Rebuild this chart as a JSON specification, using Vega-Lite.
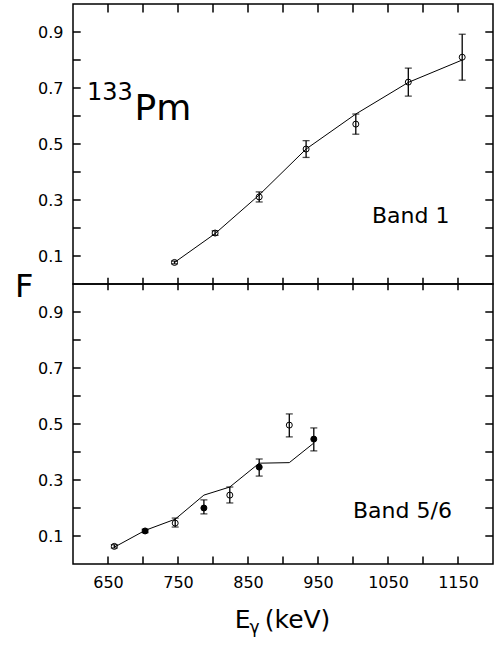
{
  "$schema": "https://vega.github.io/schema/vega-lite/v6.json",
  "autosize": {"type": "none"},
  "padding": {"left": 73, "top": 4, "right": 3, "bottom": 641},
  "bounds": "flush",
  "spacing": 0,
  "background": "white",
  "datasets": {
    "band1": [
      {"E": 745, "F": 0.077, "lo": 0.072, "hi": 0.082, "Fth": 0.077, "filled": false},
      {"E": 803, "F": 0.182, "lo": 0.174, "hi": 0.190, "Fth": 0.180, "filled": false},
      {"E": 866, "F": 0.311, "lo": 0.293, "hi": 0.329, "Fth": 0.318, "filled": false},
      {"E": 933, "F": 0.482, "lo": 0.452, "hi": 0.512, "Fth": 0.482, "filled": false},
      {"E": 1004, "F": 0.571, "lo": 0.535, "hi": 0.607, "Fth": 0.607, "filled": false},
      {"E": 1079, "F": 0.721, "lo": 0.671, "hi": 0.771, "Fth": 0.720, "filled": false},
      {"E": 1156, "F": 0.810, "lo": 0.728, "hi": 0.892, "Fth": 0.800, "filled": false}
    ],
    "band56": [
      {"E": 659, "F": 0.063, "lo": 0.057, "hi": 0.069, "Fth": 0.060, "filled": false},
      {"E": 703, "F": 0.118, "lo": 0.112, "hi": 0.124, "Fth": 0.120, "filled": true},
      {"E": 746, "F": 0.146, "lo": 0.132, "hi": 0.164, "Fth": 0.160, "filled": false},
      {"E": 787, "F": 0.200, "lo": 0.179, "hi": 0.229, "Fth": 0.246, "filled": true},
      {"E": 824, "F": 0.246, "lo": 0.218, "hi": 0.275, "Fth": 0.275, "filled": false},
      {"E": 866, "F": 0.346, "lo": 0.314, "hi": 0.375, "Fth": 0.360, "filled": true},
      {"E": 909, "F": 0.496, "lo": 0.454, "hi": 0.536, "Fth": 0.362, "filled": false},
      {"E": 944, "F": 0.446, "lo": 0.404, "hi": 0.486, "Fth": 0.432, "filled": true}
    ],
    "yticks": [{"v": 0.1}, {"v": 0.2}, {"v": 0.3}, {"v": 0.4}, {"v": 0.5}, {"v": 0.6}, {"v": 0.7}, {"v": 0.8}, {"v": 0.9}],
    "xticks": [{"v": 650}, {"v": 700}, {"v": 750}, {"v": 800}, {"v": 850}, {"v": 900}, {"v": 950}, {"v": 1000}, {"v": 1050}, {"v": 1100}, {"v": 1150}]
  },
  "config": {
    "view": {"stroke": "black", "strokeWidth": 1.5},
    "axis": {
      "domain": false, "grid": false, "ticks": false,
      "labelFont": "DejaVu Sans", "labelFontSize": 16, "labelColor": "black", "labelPadding": 10, "title": null
    },
    "text": {"font": "DejaVu Sans", "color": "black"}
  },
  "vconcat": [
    {
      "width": 420, "height": 280,
      "layer": [
        {
          "data": {"name": "band1"},
          "mark": {"type": "line", "color": "black", "strokeWidth": 1},
          "encoding": {
            "x": {"field": "E", "type": "quantitative", "scale": {"domain": [600, 1200], "nice": false}, "axis": null},
            "y": {"field": "Fth", "type": "quantitative", "scale": {"domain": [0, 1], "nice": false},
                  "axis": {"orient": "left", "values": [0.1, 0.3, 0.5, 0.7, 0.9], "format": ".1f"}}
          }
        },
        {
          "data": {"name": "band1"},
          "mark": {"type": "errorbar", "ticks": true, "size": 7, "thickness": 1.3, "color": "black"},
          "encoding": {
            "x": {"field": "E", "type": "quantitative", "scale": {"domain": [600, 1200], "nice": false}, "axis": null},
            "y": {"field": "lo", "type": "quantitative", "scale": {"domain": [0, 1], "nice": false}, "axis": null},
            "y2": {"field": "hi"}
          }
        },
        {
          "data": {"name": "band1"},
          "mark": {"type": "point", "shape": "circle", "size": 36, "strokeWidth": 1, "opacity": 1, "filled": true},
          "encoding": {
            "x": {"field": "E", "type": "quantitative", "scale": {"domain": [600, 1200], "nice": false}, "axis": null},
            "y": {"field": "F", "type": "quantitative", "scale": {"domain": [0, 1], "nice": false}, "axis": null},
            "fill": {"condition": {"test": "datum.filled", "value": "black"}, "value": "transparent"},
            "stroke": {"value": "black"}
          }
        },
        {
          "data": {"name": "yticks"},
          "mark": {"type": "rule", "color": "black", "strokeWidth": 1.5, "opacity": 1},
          "encoding": {
            "y": {"field": "v", "type": "quantitative", "scale": {"domain": [0, 1], "nice": false}, "axis": null},
            "x": {"datum": 600, "type": "quantitative", "scale": {"domain": [600, 1200], "nice": false}, "axis": null},
            "x2": {"datum": 611}
          }
        },
        {
          "data": {"name": "yticks"},
          "mark": {"type": "rule", "color": "black", "strokeWidth": 1.5, "opacity": 1},
          "encoding": {
            "y": {"field": "v", "type": "quantitative", "scale": {"domain": [0, 1], "nice": false}, "axis": null},
            "x": {"datum": 1189, "type": "quantitative", "scale": {"domain": [600, 1200], "nice": false}, "axis": null},
            "x2": {"datum": 1200}
          }
        },
        {
          "data": {"name": "xticks"},
          "mark": {"type": "rule", "color": "black", "strokeWidth": 1.5, "opacity": 1},
          "encoding": {
            "x": {"field": "v", "type": "quantitative", "scale": {"domain": [600, 1200], "nice": false}, "axis": null},
            "y": {"datum": 0, "type": "quantitative", "scale": {"domain": [0, 1], "nice": false}, "axis": null},
            "y2": {"datum": 0.022}
          }
        },
        {
          "data": {"name": "xticks"},
          "mark": {"type": "rule", "color": "black", "strokeWidth": 1.5, "opacity": 1},
          "encoding": {
            "x": {"field": "v", "type": "quantitative", "scale": {"domain": [600, 1200], "nice": false}, "axis": null},
            "y": {"datum": 0.97, "type": "quantitative", "scale": {"domain": [0, 1], "nice": false}, "axis": null},
            "y2": {"datum": 1}
          }
        },
        {
          "data": {"values": [{}]},
          "mark": {"type": "text", "text": "133", "fontSize": 24, "align": "left", "baseline": "alphabetic"},
          "encoding": {
            "x": {"datum": 620, "type": "quantitative", "scale": {"domain": [600, 1200], "nice": false}, "axis": null},
            "y": {"datum": 0.657, "type": "quantitative", "scale": {"domain": [0, 1], "nice": false}, "axis": null}
          }
        },
        {
          "data": {"values": [{}]},
          "mark": {"type": "text", "text": "Pm", "fontSize": 36, "align": "left", "baseline": "alphabetic"},
          "encoding": {
            "x": {"datum": 688, "type": "quantitative", "scale": {"domain": [600, 1200], "nice": false}, "axis": null},
            "y": {"datum": 0.586, "type": "quantitative", "scale": {"domain": [0, 1], "nice": false}, "axis": null}
          }
        },
        {
          "data": {"values": [{}]},
          "mark": {"type": "text", "text": "Band 1", "fontSize": 22, "align": "left", "baseline": "alphabetic"},
          "encoding": {
            "x": {"datum": 1027, "type": "quantitative", "scale": {"domain": [600, 1200], "nice": false}, "axis": null},
            "y": {"datum": 0.218, "type": "quantitative", "scale": {"domain": [0, 1], "nice": false}, "axis": null}
          }
        },
        {
          "data": {"values": [{}]},
          "mark": {"type": "text", "text": "F", "fontSize": 32, "align": "left", "baseline": "alphabetic"},
          "encoding": {
            "x": {"datum": 517, "type": "quantitative", "scale": {"domain": [600, 1200], "nice": false}, "axis": null},
            "y": {"datum": -0.046, "type": "quantitative", "scale": {"domain": [0, 1], "nice": false}, "axis": null}
          }
        }
      ],
      "resolve": {"axis": {"x": "independent", "y": "independent"}}
    },
    {
      "width": 420, "height": 280,
      "layer": [
        {
          "data": {"name": "band56"},
          "mark": {"type": "line", "color": "black", "strokeWidth": 1},
          "encoding": {
            "x": {"field": "E", "type": "quantitative", "scale": {"domain": [600, 1200], "nice": false},
                  "axis": {"orient": "bottom", "values": [650, 750, 850, 950, 1050, 1150], "format": "d"}},
            "y": {"field": "Fth", "type": "quantitative", "scale": {"domain": [0, 1], "nice": false},
                  "axis": {"orient": "left", "values": [0.1, 0.3, 0.5, 0.7, 0.9], "format": ".1f"}}
          }
        },
        {
          "data": {"name": "band56"},
          "mark": {"type": "errorbar", "ticks": true, "size": 7, "thickness": 1.3, "color": "black"},
          "encoding": {
            "x": {"field": "E", "type": "quantitative", "scale": {"domain": [600, 1200], "nice": false}, "axis": null},
            "y": {"field": "lo", "type": "quantitative", "scale": {"domain": [0, 1], "nice": false}, "axis": null},
            "y2": {"field": "hi"}
          }
        },
        {
          "data": {"name": "band56"},
          "mark": {"type": "point", "shape": "circle", "size": 36, "strokeWidth": 1, "opacity": 1, "filled": true},
          "encoding": {
            "x": {"field": "E", "type": "quantitative", "scale": {"domain": [600, 1200], "nice": false}, "axis": null},
            "y": {"field": "F", "type": "quantitative", "scale": {"domain": [0, 1], "nice": false}, "axis": null},
            "fill": {"condition": {"test": "datum.filled", "value": "black"}, "value": "transparent"},
            "stroke": {"value": "black"}
          }
        },
        {
          "data": {"name": "yticks"},
          "mark": {"type": "rule", "color": "black", "strokeWidth": 1.5, "opacity": 1},
          "encoding": {
            "y": {"field": "v", "type": "quantitative", "scale": {"domain": [0, 1], "nice": false}, "axis": null},
            "x": {"datum": 600, "type": "quantitative", "scale": {"domain": [600, 1200], "nice": false}, "axis": null},
            "x2": {"datum": 611}
          }
        },
        {
          "data": {"name": "yticks"},
          "mark": {"type": "rule", "color": "black", "strokeWidth": 1.5, "opacity": 1},
          "encoding": {
            "y": {"field": "v", "type": "quantitative", "scale": {"domain": [0, 1], "nice": false}, "axis": null},
            "x": {"datum": 1189, "type": "quantitative", "scale": {"domain": [600, 1200], "nice": false}, "axis": null},
            "x2": {"datum": 1200}
          }
        },
        {
          "data": {"name": "xticks"},
          "mark": {"type": "rule", "color": "black", "strokeWidth": 1.5, "opacity": 1},
          "encoding": {
            "x": {"field": "v", "type": "quantitative", "scale": {"domain": [600, 1200], "nice": false}, "axis": null},
            "y": {"datum": 0, "type": "quantitative", "scale": {"domain": [0, 1], "nice": false}, "axis": null},
            "y2": {"datum": 0.027}
          }
        },
        {
          "data": {"name": "xticks"},
          "mark": {"type": "rule", "color": "black", "strokeWidth": 1.5, "opacity": 1},
          "encoding": {
            "x": {"field": "v", "type": "quantitative", "scale": {"domain": [600, 1200], "nice": false}, "axis": null},
            "y": {"datum": 0.978, "type": "quantitative", "scale": {"domain": [0, 1], "nice": false}, "axis": null},
            "y2": {"datum": 1}
          }
        },
        {
          "data": {"values": [{}]},
          "mark": {"type": "text", "text": "Band 5/6", "fontSize": 22, "align": "left", "baseline": "alphabetic"},
          "encoding": {
            "x": {"datum": 1000, "type": "quantitative", "scale": {"domain": [600, 1200], "nice": false}, "axis": null},
            "y": {"datum": 0.164, "type": "quantitative", "scale": {"domain": [0, 1], "nice": false}, "axis": null}
          }
        },
        {
          "data": {"values": [{}]},
          "mark": {"type": "text", "text": "E", "fontSize": 25, "align": "left", "baseline": "alphabetic"},
          "encoding": {
            "x": {"datum": 831, "type": "quantitative", "scale": {"domain": [600, 1200], "nice": false}, "axis": null},
            "y": {"datum": -0.229, "type": "quantitative", "scale": {"domain": [0, 1], "nice": false}, "axis": null}
          }
        },
        {
          "data": {"values": [{}]},
          "mark": {"type": "text", "text": "γ", "fontSize": 17, "align": "left", "baseline": "alphabetic"},
          "encoding": {
            "x": {"datum": 852, "type": "quantitative", "scale": {"domain": [600, 1200], "nice": false}, "axis": null},
            "y": {"datum": -0.246, "type": "quantitative", "scale": {"domain": [0, 1], "nice": false}, "axis": null}
          }
        },
        {
          "data": {"values": [{}]},
          "mark": {"type": "text", "text": "(keV)", "fontSize": 25, "align": "left", "baseline": "alphabetic"},
          "encoding": {
            "x": {"datum": 874, "type": "quantitative", "scale": {"domain": [600, 1200], "nice": false}, "axis": null},
            "y": {"datum": -0.229, "type": "quantitative", "scale": {"domain": [0, 1], "nice": false}, "axis": null}
          }
        }
      ],
      "resolve": {"axis": {"x": "independent", "y": "independent"}}
    }
  ]
}
